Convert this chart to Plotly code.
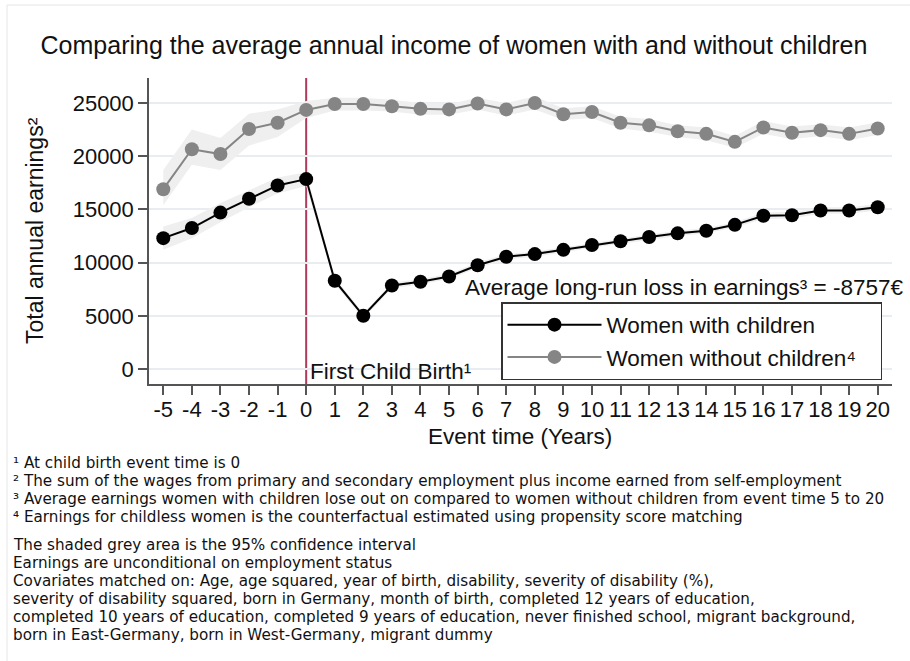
import plotly.graph_objects as go

# ---------------- data ----------------
event_time = list(range(-5, 21))
tick_labels = ["-5", "-4", "-3", "-2", "-1", "0", "1", "2", "3", "4", "5", "6", "7", "8", "9",
               "10", "11", "12", "13", "14", "15", "16", "17", "18", "19", "20"]
y_ticks = [0, 5000, 10000, 15000, 20000, 25000]

with_children = [12300, 13250, 14700, 16000, 17250, 17850, 8300, 5000, 7850, 8200, 8700,
                 9750, 10550, 10800, 11200, 11650, 12000, 12400, 12750, 13000, 13550,
                 14400, 14450, 14900, 14900, 15200]
with_children_lo = [11200, 12300, 13800, 15200, 16500, 17200, 8000, 4750, 7600, 7950, 8450,
                    9500, 10300, 10550, 10950, 11400, 11750, 12150, 12500, 12750, 13300,
                    14100, 14150, 14600, 14600, 14900]
with_children_hi = [13400, 14200, 15600, 16800, 18000, 18500, 8600, 5250, 8100, 8450, 8950,
                    10000, 10800, 11050, 11450, 11900, 12250, 12650, 13000, 13250, 13800,
                    14700, 14750, 15200, 15200, 15500]

without_children = [16900, 20650, 20200, 22550, 23150, 24350, 24900, 24900, 24700, 24450, 24400,
                    24950, 24400, 25000, 23950, 24150, 23150, 22900, 22350, 22100, 21350,
                    22700, 22200, 22450, 22100, 22600]
without_children_lo = [15400, 19200, 18700, 21000, 21800, 23600, 24300, 24300, 24200, 23900, 23900,
                       24400, 23800, 24400, 23400, 23600, 22600, 22300, 21800, 21500, 20800,
                       22100, 21600, 21900, 21500, 22000]
without_children_hi = [18700, 22500, 21700, 24000, 24400, 25200, 25500, 25500, 25300, 25000, 24900,
                       25500, 25000, 25600, 24500, 24700, 23700, 23500, 22900, 22700, 21900,
                       23300, 22800, 23000, 22700, 23200]

birth_event = 0
avg_loss = -8757

footnotes = [
    "¹ At child birth event time is 0",
    "² The sum of the wages from primary and secondary employment plus income earned from self-employment",
    "³ Average earnings women with children lose out on compared to women without children from event time 5 to 20",
    "⁴ Earnings for childless women is the counterfactual estimated using propensity score matching",
]
notes = [
    "The shaded grey area is the 95% confidence interval",
    "Earnings are unconditional on employment status",
    "Covariates matched on: Age, age squared, year of birth, disability, severity of disability (%),",
    "severity of disability squared, born in Germany, month of birth, completed 12 years of education,",
    "completed 10 years of education, completed 9 years of education, never finished school, migrant background,",
    "born in East-Germany, born in West-Germany, migrant dummy",
]

# ---------------- figure ----------------
FONT = "Liberation Sans, Arial, Helvetica, sans-serif"
NOTE_FONT = "DejaVu Sans, sans-serif"
BAND = "#efefef"
L, R, T, B = 149, 892, 78, 384
PW, PH = R - L, B - T


def px_x(x):
    return (x - L) / PW


def px_y(y):
    return (B - y) / PH


fig = go.Figure()

# confidence bands
for lo, hi in [(without_children_lo, without_children_hi), (with_children_lo, with_children_hi)]:
    fig.add_trace(go.Scatter(x=event_time, y=lo, mode="lines", line=dict(width=0),
                             showlegend=False, hoverinfo="skip"))
    fig.add_trace(go.Scatter(x=event_time, y=hi, mode="lines", line=dict(width=0),
                             fill="tonexty", fillcolor=BAND, showlegend=False, hoverinfo="skip"))

fig.add_trace(go.Scatter(x=event_time, y=with_children, mode="lines+markers",
                         name="Women with children",
                         line=dict(color="black", width=2),
                         marker=dict(color="black", size=14)))
fig.add_trace(go.Scatter(x=event_time, y=without_children, mode="lines+markers",
                         name="Women without children⁴\u00a0\u00a0\u00a0",
                         line=dict(color="#858585", width=2),
                         marker=dict(color="#858585", size=14)))

fig.add_shape(type="line", xref="x", yref="paper", x0=birth_event, x1=birth_event, y0=0, y1=1,
              line=dict(color="#b03a5b", width=2), layer="between")

fig.update_layout(
    width=910, height=661,
    margin=dict(l=L, r=910 - R, t=T, b=661 - B),
    paper_bgcolor="white", plot_bgcolor="white",
    font=dict(family=FONT, size=22, color="#111111"),
    title=dict(text="Comparing the average annual income of women with and without children",
               x=454 / 910, xref="container", xanchor="center", y=1 - 45 / 661, yanchor="middle",
               font=dict(size=25, color="#111111")),
    showlegend=True,
    legend=dict(x=px_x(501), y=px_y(302), xanchor="left", yanchor="top", traceorder="normal",
                bordercolor="#333333", borderwidth=1.5, bgcolor="white",
                font=dict(size=22.5), itemwidth=94),
    xaxis=dict(range=[-5.5, 20.5], tickvals=event_time, ticktext=tick_labels,
               showgrid=False, zeroline=False, showline=True, linecolor="#555555", linewidth=1.5,
               ticks="outside", ticklen=9, tickwidth=1.5, tickcolor="#555555",
               ticklabelstandoff=-4, tickfont=dict(size=22)),
    yaxis=dict(range=[-1410, 27350], tickvals=y_ticks, ticktext=[str(v) for v in y_ticks],
               showgrid=True, gridcolor="#e9edf1", gridwidth=1.5, zeroline=False,
               showline=True, linecolor="#555555", linewidth=1.5,
               ticks="outside", ticklen=9, tickwidth=1.5, tickcolor="#555555",
               tickfont=dict(size=22)),
)

ann = []
ann.append(dict(text="Total annual earnings²", textangle=-90, xref="paper", yref="paper",
                x=px_x(35), y=0.5, xanchor="center", yanchor="middle", showarrow=False,
                font=dict(size=23)))
ann.append(dict(text="Event time (Years)", xref="paper", yref="paper",
                x=px_x(520), y=px_y(436), xanchor="center", yanchor="middle", showarrow=False,
                font=dict(size=22.5)))
ann.append(dict(text="First Child Birth¹", xref="x", yref="paper", x=birth_event, xshift=2,
                y=px_y(371), xanchor="left", yanchor="middle", showarrow=False,
                font=dict(size=22.5)))
ann.append(dict(text=f"Average long-run loss in earnings³ = {avg_loss}€", xref="paper", yref="paper",
                x=px_x(463), y=px_y(287), xanchor="left", yanchor="middle",
                showarrow=False, font=dict(size=22.5)))

lines_y = [463, 481, 499, 517, 545, 563, 581, 599, 617, 635]
for txt, ypx in zip(footnotes + notes, lines_y):
    ann.append(dict(text=txt, xref="paper", yref="paper", x=px_x(11),
                    y=px_y(ypx), xanchor="left", yanchor="middle", showarrow=False,
                    font=dict(family=NOTE_FONT, size=15.2, color="#111111")))
fig.update_layout(annotations=ann)

# faint outer frame
fig.add_shape(type="rect", xref="paper", yref="paper", x0=px_x(7), x1=px_x(930),
              y0=px_y(700), y1=px_y(5), line=dict(color="#e6e6e6", width=1),
              layer="below")

fig.write_html("out.html", config={"displayModeBar": False},
               post_script="document.body.style.margin='0px';")
